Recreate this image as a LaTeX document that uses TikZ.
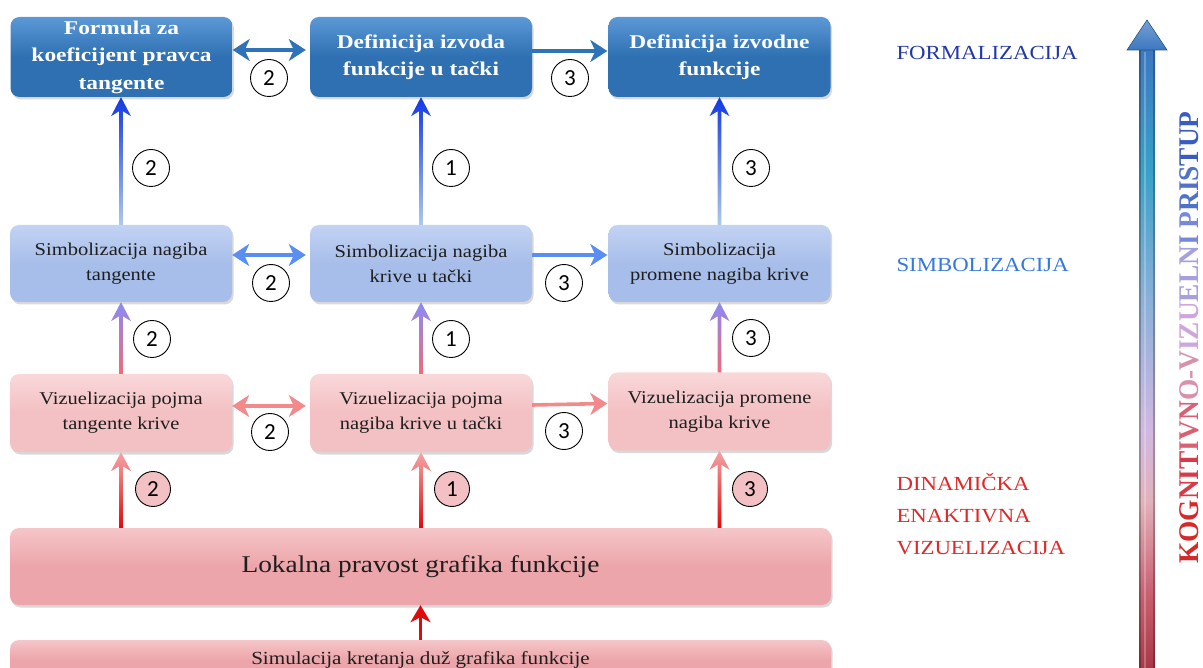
\documentclass[tikz,border=0pt]{standalone}
\usepackage{fontspec}
\setmainfont{Liberation Serif}[FakeStretch=1.14]
\newfontfamily\tfont{Liberation Serif}[FakeStretch=1.2]
\newfontfamily\numfont{Carlito}
\newfontfamily\vfont{Liberation Serif}[FakeStretch=0.96]
\usetikzlibrary{shadows,arrows.meta,calc}
\definecolor{fblue}{HTML}{2E70B2}
\definecolor{fblueL}{HTML}{5C98D6}
\definecolor{sblue}{HTML}{A8BEEA}
\definecolor{sblueL}{HTML}{C2D3F3}
\definecolor{vpink}{HTML}{F3C0C3}
\definecolor{vpinkL}{HTML}{F9D8DA}
\definecolor{lpink}{HTML}{ECA5AA}
\definecolor{lpinkL}{HTML}{F5C6C9}
\definecolor{txt}{HTML}{1E1E1E}
\definecolor{harrF}{HTML}{2E72B8}
\definecolor{harrS}{HTML}{5A8EF0}
\definecolor{harrV}{HTML}{F28A8C}
\definecolor{labF}{HTML}{2238A8}
\definecolor{labS}{HTML}{3478E0}
\definecolor{labD}{HTML}{E02828}
\definecolor{upB0}{HTML}{AEC8EA}
\definecolor{upB1}{HTML}{1238E6}
\definecolor{upM0}{HTML}{F06A78}
\definecolor{upM1}{HTML}{8A8AF6}
\definecolor{upR0}{HTML}{E00A0A}
\definecolor{upR1}{HTML}{F5A4A6}
\definecolor{s0}{HTML}{A83848}
\definecolor{s1}{HTML}{C86070}
\definecolor{s2}{HTML}{E2B2BC}
\definecolor{s3}{HTML}{D0B8E2}
\definecolor{s4}{HTML}{88B0D8}
\definecolor{s5}{HTML}{3AA0C8}
\definecolor{s6}{HTML}{3C78C0}
\pgfdeclareverticalshading{shaftshade}{100bp}{color(0bp)=(s0); color(25bp)=(s0); color(31bp)=(s1); color(38.5bp)=(s2); color(44.25bp)=(s3); color(55bp)=(s4); color(65bp)=(s5); color(75bp)=(s6); color(100bp)=(s6)}
\newcommand\gradup[4]{%
  \shade[bottom color=#3, top color=#4] let \p1=(#1), \p2=(#2) in
  (\x1-1.8pt,\y1) -- (\x1-1.8pt,\y2-14pt) -- (\x1-10pt,\y2-19pt) -- (\x1,\y2)
  -- (\x1+10pt,\y2-19pt) -- (\x1+1.8pt,\y2-14pt) -- (\x1+1.8pt,\y1) -- cycle;}
\begin{document}
\begin{tikzpicture}[x=1pt,y=-1pt,
  boxbase/.style={rounded corners=9pt, align=center, inner sep=0pt,
    drop shadow={shadow xshift=1.5pt, shadow yshift=-2.5pt, opacity=0.3}},
  fbox/.style={boxbase, minimum width=222pt, minimum height=80pt,
    top color=fblueL, bottom color=fblue, middle color=fblue,
    text=white, font=\tfont\bfseries\fontsize{19.5}{27.5}\selectfont},
  sbox/.style={boxbase, minimum width=222pt, minimum height=77pt,
    top color=sblueL, bottom color=sblue, middle color=sblue,
    text=txt, font=\fontsize{18}{25}\selectfont},
  vbox/.style={boxbase, minimum width=222pt, minimum height=78pt,
    top color=vpinkL, bottom color=vpink, middle color=vpink,
    text=txt, font=\fontsize{18}{25}\selectfont},
  lbox/.style={boxbase, minimum width=821pt, minimum height=77pt,
    top color=lpinkL, bottom color=lpink, middle color=lpink,
    text=txt},
  num/.style={circle, draw=black, line width=0.9pt, fill=white, minimum size=37pt,
    inner sep=0pt, font=\numfont\fontsize{23}{23}\selectfont},
  numP/.style={num, fill=vpink, minimum size=35pt},
  harr/.style={line width=3.6pt, draw=#1, {Stealth[length=17pt,width=22pt,inset=5pt]}-{Stealth[length=17pt,width=22pt,inset=5pt]}},
  harr1/.style={line width=3.6pt, draw=#1, -{Stealth[length=17pt,width=22pt,inset=5pt]}},
  lab/.style={anchor=west, font=\fontsize{20}{32}\selectfont, align=left}
]
\useasboundingbox (0,0) rectangle (1203,668);
\clip (0,0) rectangle (1203,668);

% top row
\node[fbox] (f1) at (121.5,57) {Formula za\\koeficijent pravca\\tangente};
\node[fbox] (f2) at (421,57) {Definicija izvoda\\funkcije u tački};
\node[fbox] (f3) at (719.5,57) {Definicija izvodne\\funkcije};
% middle row
\node[sbox] (s1) at (121,263.5) {Simbolizacija nagiba\\tangente};
\node[sbox] (s2) at (421,263.5) {Simbolizacija nagiba\\krive u tački};
\node[sbox] (s3) at (719.5,263.5) {Simbolizacija\\promene nagiba krive};
% viz row
\node[vbox] (v1) at (121,413) {Vizuelizacija pojma\\tangente krive};
\node[vbox] (v2) at (421,413) {Vizuelizacija pojma\\nagiba krive u tački};
\node[vbox] (v3) at (719.5,411.5) {Vizuelizacija promene\\nagiba krive};
% big boxes
\node[lbox, font=\fontsize{24}{24}\selectfont] (lok) at (420.5,566.5) {Lokalna pravost grafika funkcije};
\node[lbox, minimum height=40pt, font=\fontsize{18.5}{18.5}\selectfont] (sim) at (420.5,660) {\raisebox{5pt}{Simulacija kretanja duž grafika funkcije}};

% horizontal arrows
\draw[harr=harrF] ([yshift=7pt]f1.east) -- ([yshift=7pt,xshift=-4pt]f2.west);
\draw[harr1=harrF] ([yshift=6pt]f2.east) -- ([yshift=6pt,xshift=-1pt]f3.west);
\draw[harr=harrS] ([yshift=8.5pt]s1.east) -- ([yshift=8.5pt,xshift=-4pt]s2.west);
\draw[harr1=harrS] ([yshift=8.5pt]s2.east) -- ([yshift=8.5pt,xshift=-1pt]s3.west);
\draw[harr=harrV] ([yshift=7pt]v1.east) -- ([yshift=7pt,xshift=-4pt]v2.west);
\draw[harr1=harrV] ([yshift=8pt]v2.east) -- ([yshift=8pt,xshift=-1pt]v3.west);

% vertical gradient arrows
\gradup{s1.north}{f1.south}{upB0}{upB1}
\gradup{s2.north}{f2.south}{upB0}{upB1}
\gradup{s3.north}{f3.south}{upB0}{upB1}
\gradup{v1.north}{s1.south}{upM0}{upM1}
\gradup{v2.north}{s2.south}{upM0}{upM1}
\gradup{v3.north}{s3.south}{upM0}{upM1}
\gradup{lok.north -| v1.south}{v1.south}{upR0}{upR1}
\gradup{lok.north -| v2.south}{v2.south}{upR0}{upR1}
\gradup{lok.north -| v3.south}{v3.south}{upR0}{upR1}
\draw[line width=3.6pt, upR0, -{Stealth[length=17pt,width=20pt,inset=5pt]}] (sim.north) -- (lok.south);

% numbers
\node[num] (n1) at (269,78) {2};
\node[num] (n2) at (570,78) {3};
\node[num] (n3) at (151,168) {2};
\node[num] (n4) at (451,168) {1};
\node[num] (n5) at (751,168) {3};
\node[num] (n6) at (271,283) {2};
\node[num] (n7) at (564,283) {3};
\node[num] (n8) at (152,339) {2};
\node[num] (n9) at (451,339) {1};
\node[num] (n10) at (751,338) {3};
\node[num] (n11) at (270,432) {2};
\node[num] (n12) at (564,431) {3};
\node[numP] (n13) at (153,489) {2};
\node[numP] (n14) at (452,489) {1};
\node[numP] (n15) at (750,489) {3};

% right labels
\node[lab, text=labF] (lf) at (893,53) {FORMALIZACIJA};
\node[lab, text=labS] (ls) at (893,265) {SIMBOLIZACIJA};
\node[lab, text=labD] (ld) at (893,514) {DINAMIČKA\\ENAKTIVNA\\VIZUELIZACIJA};

% big arrow
\shade[shading=shaftshade] (1139,668) rectangle (1155,48);
\draw[black, opacity=0.25, line width=1.5pt] (1139.8,668) -- (1139.8,48) (1154.2,668) -- (1154.2,48);
\draw[white, opacity=0.25, line width=2pt] (1145,668) -- (1145,52);
\shade[top color=s6!70!white, bottom color=s6, draw=s6!70!black, line width=0.6pt]
  (1127,50) -- (1147,20) -- (1167,50) -- cycle;

% vertical title
\node[rotate=90, inner sep=0pt, font=\vfont\bfseries\fontsize{28.5}{28.5}\selectfont] (kv) at (1189,337.5)
 {\textcolor[HTML]{D42A2A}{KOG}\textcolor[HTML]{D63C48}{NIT}\textcolor[HTML]{D86072}{IVN}\textcolor[HTML]{D890AC}{O-V}\textcolor[HTML]{CEA6DE}{IZU}\textcolor[HTML]{A6A0E0}{ELN}\textcolor[HTML]{7888D8}{I P}\textcolor[HTML]{5072C8}{RIS}\textcolor[HTML]{3A5CC0}{TUP}};
\end{tikzpicture}
\end{document}
